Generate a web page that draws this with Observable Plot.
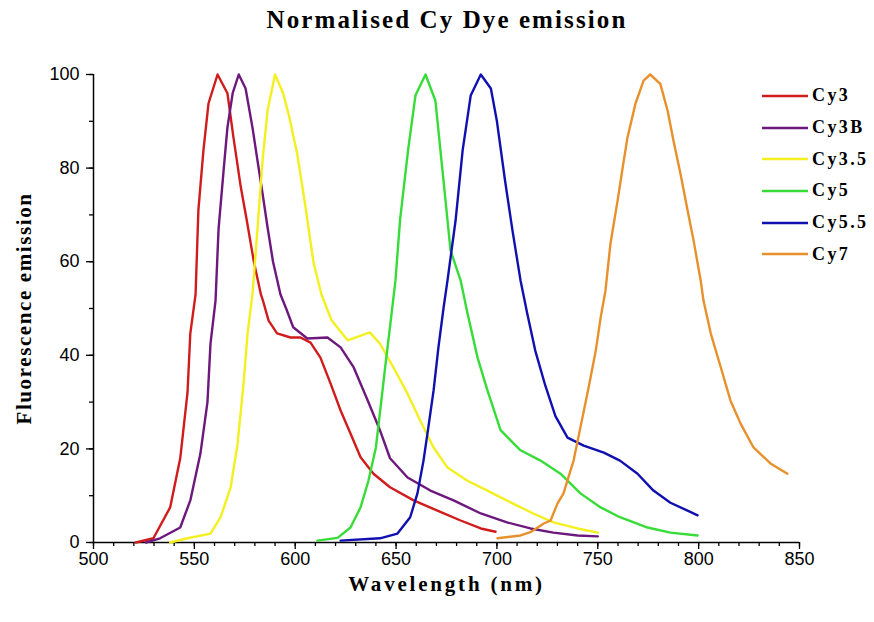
<!DOCTYPE html>
<html>
<head>
<meta charset="utf-8">
<script src="https://cdn.jsdelivr.net/npm/d3@7"></script>
<script src="https://cdn.jsdelivr.net/npm/@observablehq/plot@0.6"></script>
<style>
  html, body { margin: 0; padding: 0; background: #fff; }
  #wrap { position: relative; width: 874px; height: 622px; }
  #title { height: 50px; width: 874px; box-sizing: border-box; padding-left: 20px; padding-top: 6px;
    text-align: center; font-family: "Liberation Serif", serif; font-weight: bold; font-size: 25px; letter-spacing: 2.1px; }
  #legend { position: absolute; left: 762px; top: 80px; font-family: "Liberation Serif", serif; font-weight: bold; font-size: 18px; }
  .row { display: flex; align-items: center; height: 31.7px; }
  .row span { margin-left: 4px; letter-spacing: 2.4px; }
</style>
</head>
<body>
<div id="wrap">
  <div id="title">Normalised Cy Dye emission</div>
  <div id="chart"></div>
  <div id="legend"></div>
</div>
<script>
const dyes = ["Cy3", "Cy3B", "Cy3.5", "Cy5", "Cy5.5", "Cy7"];
const colors = ["#d01c1c", "#6c187c", "#f4f020", "#38dc38", "#1010b0", "#e8902c"];

const cy3Nm  = [521, 529.7, 538, 543, 546.6, 548, 550.6, 552, 554.5, 557, 561.5, 566.4, 569.4, 573, 576, 579.5, 583, 584, 586.8, 591, 597.7, 602.6, 607.6, 612.5, 617.5, 622.5, 627.4, 632.4, 638.8, 647, 658.7, 670.5, 682, 692, 699.3];
const cy3Val = [0, 0.9, 7.5, 18, 32, 44.7, 53, 71, 83.8, 93.8, 100, 96, 86.5, 76, 68.8, 60, 53, 51.7, 47.4, 44.7, 43.8, 43.8, 42.7, 39.5, 34, 28.2, 23.3, 18.2, 14.7, 11.8, 9, 6.8, 4.7, 3, 2.3];

const cy3bNm  = [526, 533, 543, 548, 553, 556.5, 558, 560.5, 562, 564.5, 566.4, 569, 572, 575.4, 578.8, 581.3, 583.8, 586.3, 589, 592.7, 595.5, 599, 606, 616, 622.5, 629, 636, 642, 647, 655.7, 667, 678.5, 692, 705, 716.6, 728, 740, 750];
const cy3bVal = [0, 0.9, 3.2, 9, 19, 30, 42.5, 51.7, 67, 79.5, 88.7, 96, 100, 97, 88.7, 81.6, 74.6, 67.3, 60, 53, 50, 46, 43.6, 43.8, 41.7, 37.4, 30.3, 24, 18, 13.9, 11.1, 9, 6.2, 4.3, 3, 2.1, 1.5, 1.3];

const cy35Nm  = [538, 546.6, 558, 563, 568, 571.4, 574.4, 576.4, 578.8, 581.3, 583.8, 586.3, 590, 594, 597, 601, 605, 609, 613, 618, 626, 637, 642, 648.7, 655.7, 662, 668.6, 675.5, 685.4, 695.3, 708, 718, 728, 740, 750];
const cy35Val = [0, 0.9, 1.9, 5.4, 11.8, 21, 34, 44.7, 53, 67, 81.6, 92.3, 100, 96, 91, 83, 72, 60, 53, 47.5, 43.2, 44.9, 42.5, 37.4, 31.8, 26, 20.3, 16, 13.2, 11.1, 8.3, 6.2, 4.3, 3, 2.1];

const cy5Nm  = [611, 621, 627.4, 632.4, 636.3, 640, 642.3, 644.8, 647.2, 649.7, 652, 656, 659.6, 664.6, 669.5, 673, 677, 682, 685.4, 690.4, 695.3, 701.8, 711.7, 721.6, 731.5, 741.4, 751.4, 761, 774.7, 786, 799.5];
const cy5Val = [0.4, 1, 3.2, 7.5, 13.2, 20.3, 28.8, 38.2, 46.8, 56, 69, 84, 95.5, 100, 94.4, 79.5, 62.4, 56, 49, 39.5, 32.5, 24, 19.7, 17.5, 14.7, 10.5, 7.5, 5.4, 3.2, 2.1, 1.5];

const cy55Nm  = [622.5, 642, 650.7, 657, 660.6, 663.6, 666, 668.6, 671, 673.5, 675.5, 679.5, 683, 687, 692, 697, 700, 704, 707.7, 711.7, 715, 719, 724, 729, 735, 743, 753, 761, 769.7, 777.6, 786, 794.5, 799.5];
const cy55Val = [0.4, 0.9, 1.9, 5.4, 10.5, 17.5, 24.6, 32.5, 41.7, 50, 56, 68.8, 83.8, 95.5, 100, 97, 90, 77.4, 66.7, 56, 49, 41, 33.5, 27, 22.4, 20.7, 19.2, 17.5, 14.7, 11.1, 8.5, 6.8, 5.8];

const cy7Nm  = [700.3, 711.7, 716.6, 723, 726.6, 730, 733, 738, 741.4, 745.4, 749, 751.4, 753.8, 756.3, 759.8, 762.3, 764.7, 768.7, 772.7, 776, 781, 784.6, 787.5, 791, 794.5, 797.5, 801, 802.4, 806, 811, 815.8, 820.8, 827.2, 835.6, 844];
const cy7Val = [0.9, 1.5, 2.2, 4, 4.7, 8.3, 10.5, 17.5, 24.6, 33, 41, 48, 53.8, 63.9, 73, 80, 86.5, 93.8, 98.7, 100, 98, 92.3, 85.9, 78.8, 71, 64.5, 56, 51.7, 44.7, 37.4, 30.3, 25.4, 20.3, 16.9, 14.7];

const xMajor = [500, 550, 600, 650, 700, 750, 800, 850];
const xMinor = d3.range(500, 851, 10);
const yMajor = [0, 20, 40, 60, 80, 100];
const yMinor = d3.range(0, 101, 10);
const xTitle = "Wavelength (nm)";
const yTitle = "Fluorescence emission";

const series = [
  ["Cy3", cy3Nm, cy3Val], ["Cy3B", cy3bNm, cy3bVal], ["Cy3.5", cy35Nm, cy35Val],
  ["Cy5", cy5Nm, cy5Val], ["Cy5.5", cy55Nm, cy55Val], ["Cy7", cy7Nm, cy7Val]
];
const rows = series.flatMap(([dye, xs, ys]) => xs.map((nm, i) => ({dye, nm, v: ys[i]})));

const chart = Plot.plot({
  width: 874, height: 572,
  marginTop: 24, marginBottom: 80, marginLeft: 93, marginRight: 75,
  x: {domain: [500, 850]},
  y: {domain: [0, 100]},
  color: {domain: dyes, range: colors},
  style: {fontFamily: "'Liberation Sans', sans-serif", fontSize: "18px", color: "black", background: "white", overflow: "visible"},
  marks: [
    Plot.axisX({ticks: xMinor, tickSize: 4, tickFormat: () => "", label: null, strokeWidth: 1.3}),
    Plot.axisX({ticks: xMajor, tickSize: 7, tickPadding: 3, label: null, fontSize: 18, strokeWidth: 1.3}),
    Plot.axisY({ticks: yMinor, tickSize: 4, tickFormat: () => "", label: null, strokeWidth: 1.3}),
    Plot.axisY({ticks: yMajor, tickSize: 7, tickPadding: 7, label: null, fontSize: 18, strokeWidth: 1.3}),
    Plot.ruleY([0], {strokeWidth: 1.5}),
    Plot.ruleX([500], {strokeWidth: 1.5}),
    Plot.line(rows, {x: "nm", y: "v", z: "dye", stroke: "dye", strokeWidth: 2.4}),
    Plot.text([xTitle], {frameAnchor: "bottom", dy: 42, lineAnchor: "middle", textAnchor: "middle", fontFamily: "'Liberation Serif', serif", fontWeight: "bold", fontSize: 21, text: d => d}),
    Plot.text([yTitle], {frameAnchor: "left", dx: -69, rotate: -90, lineAnchor: "middle", textAnchor: "middle", fontFamily: "'Liberation Serif', serif", fontWeight: "bold", fontSize: 21, text: d => d})
  ]
});
d3.select(chart).selectAll("text").each(function() {
  const t = this.textContent;
  if (t === xTitle) this.style.letterSpacing = "2.8px";
  if (t === yTitle) this.style.letterSpacing = "1.6px";
});
document.getElementById("chart").appendChild(chart);

const legend = document.getElementById("legend");
dyes.forEach((d, i) => {
  const row = document.createElement("div");
  row.className = "row";
  row.innerHTML = `<svg width="46" height="6"><line x1="0" x2="46" y1="3" y2="3" stroke="${colors[i]}" stroke-width="2.6"/></svg><span>${d}</span>`;
  legend.appendChild(row);
});
</script>
</body>
</html>
